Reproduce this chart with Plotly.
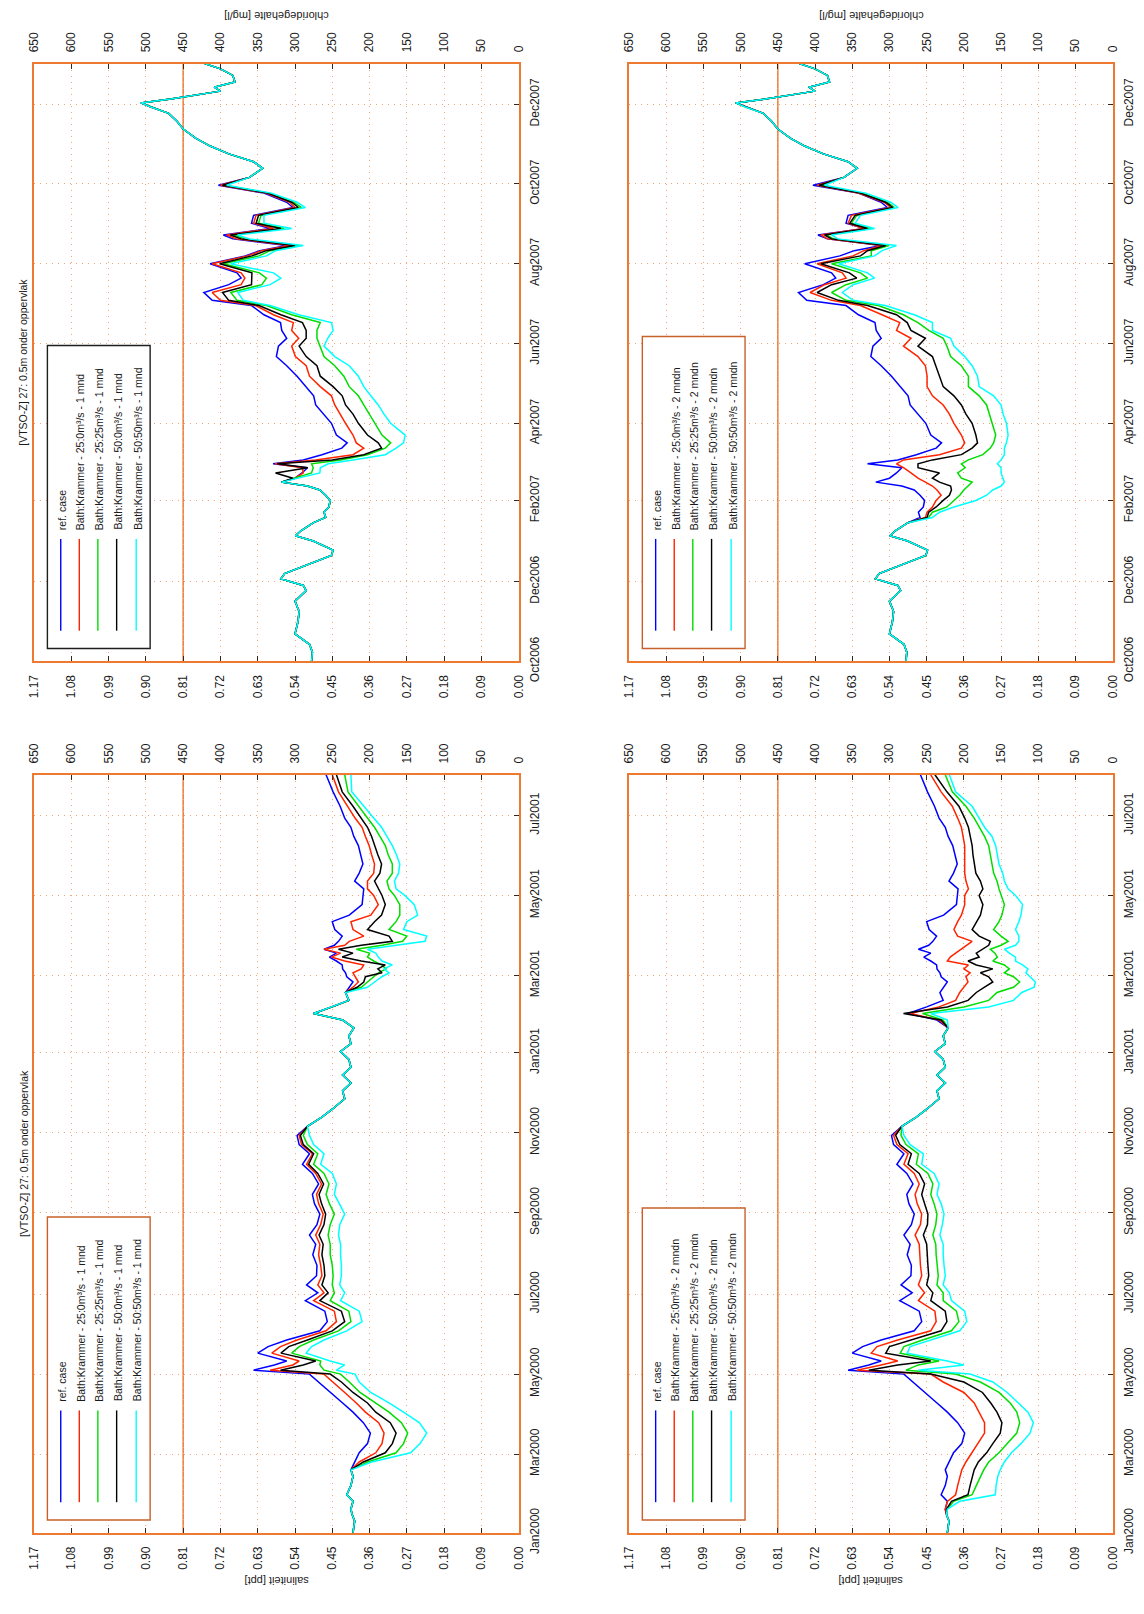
import plotly.graph_objects as go

# ---------------------------------------------------------------- page / scales
W, H = 1144, 1614
SAL_TOP = 1.17          # salinity axis maximum (ppt)
CL_TOP = 650.0          # matching chloride maximum (mg/l)
NORM_SAL = 0.81         # 450 mg/l chloride norm

FONT = "Liberation Sans, Arial, sans-serif"
ORANGE = "#ee7a32"
GRID = "#f2a478"
TICKC = "#3a2616"
TXT = "#1a1a1a"

SAL_TICKS = [0.00, 0.09, 0.18, 0.27, 0.36, 0.45, 0.54, 0.63, 0.72, 0.81, 0.90, 0.99, 1.08, 1.17]
SAL_LABELS = ["0.00", "0.09", "0.18", "0.27", "0.36", "0.45", "0.54", "0.63", "0.72",
              "0.81", "0.90", "0.99", "1.08", "1.17"]
CL_TICKS = [0, 50, 100, 150, 200, 250, 300, 350, 400, 450, 500, 550, 600, 650]

TICKS_0607 = ["2006-10-01", "2006-12-01", "2007-02-01", "2007-04-01",
              "2007-06-01", "2007-08-01", "2007-10-01", "2007-12-01"]
LABELS_0607 = ["Oct2006", "Dec2006", "Feb2007", "Apr2007",
               "Jun2007", "Aug2007", "Oct2007", "Dec2007"]
TICKS_0001 = ["2000-01-01", "2000-03-01", "2000-05-01", "2000-07-01", "2000-09-01",
              "2000-11-01", "2001-01-01", "2001-03-01", "2001-05-01", "2001-07-01"]
LABELS_0001 = ["Jan2000", "Mar2000", "May2000", "Jul2000", "Sep2000",
               "Nov2000", "Jan2001", "Mar2001", "May2001", "Jul2001"]

SERIES_NAMES = ["ref. case",
                "Bath:Krammer - 25:0m³/s",
                "Bath:Krammer - 25:25m³/s",
                "Bath:Krammer - 50:0m³/s",
                "Bath:Krammer - 50:50m³/s"]
SERIES_COLORS = ["#0000ff", "#ff2400", "#00dd00", "#000000", "#00ffff"]

TITLE = "[VTSO-Z] 27: 0.5m onder oppervlak"

# ------------------------------------------------------------ 2000 / 2001 data
# period shared by every run before the measures start
pre00_dates = ["2000-01-01", "2000-01-05", "2000-01-10", "2000-01-15"]
pre00_sal = [0.400, 0.398, 0.396, 0.402]

w00_dates = ["2000-01-19", "2000-01-25", "2000-01-30", "2000-02-06", "2000-02-13", "2000-02-18",
             "2000-02-24", "2000-03-02", "2000-03-09", "2000-03-17", "2000-03-25", "2000-04-02",
             "2000-04-09", "2000-04-17", "2000-04-25", "2000-05-01", "2000-05-04", "2000-05-08",
             "2000-05-11", "2000-05-17", "2000-05-22", "2000-05-27", "2000-06-03", "2000-06-10",
             "2000-06-18", "2000-06-26", "2000-07-02", "2000-07-08", "2000-07-15", "2000-07-23",
             "2000-07-31", "2000-08-08", "2000-08-15", "2000-08-23", "2000-08-31", "2000-09-08",
             "2000-09-15", "2000-09-23", "2000-10-01", "2000-10-08", "2000-10-16", "2000-10-23",
             "2000-10-30"]
ref_w00 = [0.405, 0.400, 0.415, 0.405, 0.400, 0.405, 0.395, 0.385, 0.365, 0.358, 0.375, 0.400,
           0.425, 0.455, 0.485, 0.505, 0.640, 0.590, 0.560, 0.630, 0.605, 0.560, 0.480, 0.462,
           0.468, 0.515, 0.485, 0.512, 0.488, 0.487, 0.497, 0.490, 0.505, 0.487, 0.480, 0.493,
           0.498, 0.483, 0.498, 0.522, 0.505, 0.530, 0.535]
red_1mnd_w00 = [0.405, 0.400, 0.415, 0.405, 0.400, 0.405, 0.385, 0.345, 0.330, 0.325, 0.338, 0.370,
                0.392, 0.420, 0.450, 0.470, 0.600, 0.545, 0.530, 0.596, 0.575, 0.535, 0.465, 0.440,
                0.445, 0.495, 0.470, 0.485, 0.475, 0.478, 0.483, 0.480, 0.490, 0.478, 0.472, 0.483,
                0.488, 0.476, 0.490, 0.512, 0.498, 0.524, 0.530]
green_1mnd_w00 = [0.405, 0.400, 0.415, 0.405, 0.400, 0.405, 0.365, 0.296, 0.278, 0.268, 0.283, 0.313,
                  0.345, 0.383, 0.409, 0.430, 0.470, 0.480, 0.478, 0.548, 0.530, 0.495, 0.435, 0.405,
                  0.410, 0.455, 0.445, 0.450, 0.448, 0.450, 0.455, 0.455, 0.460, 0.455, 0.445, 0.457,
                  0.465, 0.458, 0.470, 0.495, 0.485, 0.510, 0.520]
black_1mnd_w00 = [0.405, 0.400, 0.415, 0.405, 0.400, 0.405, 0.375, 0.322, 0.305, 0.296, 0.310, 0.345,
                  0.365, 0.400, 0.428, 0.455, 0.575, 0.520, 0.490, 0.574, 0.555, 0.510, 0.450, 0.420,
                  0.428, 0.480, 0.460, 0.475, 0.468, 0.470, 0.475, 0.472, 0.482, 0.470, 0.466, 0.476,
                  0.482, 0.471, 0.485, 0.507, 0.495, 0.520, 0.527]
cyan_1mnd_w00 = [0.405, 0.400, 0.415, 0.405, 0.400, 0.405, 0.355, 0.261, 0.238, 0.222, 0.240, 0.278,
                 0.313, 0.357, 0.385, 0.395, 0.440, 0.420, 0.455, 0.513, 0.500, 0.470, 0.415, 0.378,
                 0.385, 0.430, 0.420, 0.432, 0.428, 0.428, 0.430, 0.430, 0.435, 0.432, 0.420, 0.433,
                 0.445, 0.440, 0.450, 0.478, 0.470, 0.495, 0.505]
red_2mndn_w00 = [0.405, 0.400, 0.380, 0.375, 0.370, 0.365, 0.355, 0.340, 0.325, 0.310, 0.310, 0.323,
                 0.335, 0.360, 0.410, 0.440, 0.619, 0.560, 0.520, 0.584, 0.570, 0.520, 0.440, 0.427,
                 0.430, 0.470, 0.455, 0.470, 0.462, 0.465, 0.467, 0.468, 0.478, 0.465, 0.462, 0.473,
                 0.478, 0.468, 0.480, 0.505, 0.495, 0.522, 0.530]
green_2mndn_w00 = [0.400, 0.385, 0.340, 0.330, 0.320, 0.312, 0.300, 0.275, 0.255, 0.232, 0.225, 0.232,
                   0.248, 0.275, 0.320, 0.380, 0.500, 0.470, 0.420, 0.514, 0.505, 0.460, 0.390, 0.372,
                   0.378, 0.410, 0.410, 0.425, 0.422, 0.425, 0.427, 0.428, 0.435, 0.428, 0.425, 0.432,
                   0.440, 0.435, 0.447, 0.475, 0.470, 0.500, 0.512]
black_2mndn_w00 = [0.402, 0.390, 0.350, 0.345, 0.340, 0.335, 0.325, 0.305, 0.290, 0.272, 0.268, 0.280,
                   0.295, 0.315, 0.360, 0.440, 0.590, 0.520, 0.440, 0.549, 0.540, 0.490, 0.415, 0.401,
                   0.405, 0.440, 0.435, 0.450, 0.445, 0.447, 0.449, 0.450, 0.458, 0.448, 0.447, 0.455,
                   0.462, 0.455, 0.468, 0.495, 0.487, 0.515, 0.525]
cyan_2mndn_w00 = [0.400, 0.370, 0.284, 0.282, 0.278, 0.272, 0.262, 0.245, 0.222, 0.200, 0.192, 0.205,
                  0.228, 0.255, 0.290, 0.345, 0.470, 0.360, 0.400, 0.497, 0.490, 0.440, 0.370, 0.353,
                  0.358, 0.390, 0.395, 0.410, 0.405, 0.408, 0.410, 0.410, 0.418, 0.412, 0.408, 0.415,
                  0.425, 0.420, 0.432, 0.462, 0.458, 0.490, 0.505]

# autumn / winter, all runs coincide
mid00_dates = ["2000-11-06", "2000-11-13", "2000-11-19", "2000-11-27", "2000-12-03", "2000-12-09",
               "2000-12-15", "2000-12-21", "2000-12-27", "2001-01-02", "2001-01-08", "2001-01-14",
               "2001-01-20"]
mid00_sal = [0.510, 0.475, 0.450, 0.420, 0.425, 0.405, 0.425, 0.405, 0.410, 0.430, 0.405, 0.410, 0.398]

w01_dates = ["2001-01-26", "2001-01-31", "2001-02-05", "2001-02-10", "2001-02-16", "2001-02-20",
             "2001-02-24", "2001-02-28", "2001-03-03", "2001-03-06", "2001-03-09", "2001-03-12",
             "2001-03-15", "2001-03-18", "2001-03-21", "2001-03-24", "2001-03-27", "2001-03-31",
             "2001-04-05", "2001-04-11", "2001-04-16", "2001-04-24", "2001-05-01", "2001-05-06",
             "2001-05-12", "2001-05-18", "2001-05-25", "2001-06-01", "2001-06-08", "2001-06-15",
             "2001-06-22", "2001-06-29", "2001-07-08", "2001-07-19", "2001-08-01"]
ref_w01 = [0.425, 0.495, 0.450, 0.410, 0.418, 0.410, 0.400, 0.415, 0.418, 0.425, 0.426, 0.440,
           0.457, 0.440, 0.470, 0.445, 0.435, 0.426, 0.444, 0.450, 0.409, 0.378, 0.376, 0.374,
           0.396, 0.385, 0.376, 0.382, 0.387, 0.398, 0.405, 0.420, 0.431, 0.448, 0.465]
red_1mnd_w01 = [0.425, 0.495, 0.450, 0.410, 0.418, 0.400, 0.387, 0.395, 0.400, 0.380, 0.374, 0.420,
                0.452, 0.430, 0.470, 0.420, 0.409, 0.374, 0.400, 0.405, 0.357, 0.339, 0.350, 0.365,
                0.365, 0.350, 0.348, 0.355, 0.361, 0.370, 0.378, 0.395, 0.413, 0.435, 0.450]
green_1mnd_w01 = [0.425, 0.495, 0.450, 0.410, 0.418, 0.380, 0.365, 0.350, 0.339, 0.320, 0.331, 0.350,
                  0.365, 0.360, 0.392, 0.330, 0.280, 0.270, 0.313, 0.296, 0.287, 0.287, 0.300, 0.313,
                  0.318, 0.305, 0.305, 0.315, 0.322, 0.335, 0.348, 0.365, 0.387, 0.412, 0.420]
black_1mnd_w01 = [0.425, 0.495, 0.450, 0.410, 0.418, 0.390, 0.374, 0.370, 0.330, 0.340, 0.322, 0.380,
                  0.426, 0.400, 0.435, 0.380, 0.305, 0.313, 0.365, 0.348, 0.331, 0.322, 0.330, 0.339,
                  0.348, 0.335, 0.331, 0.340, 0.348, 0.355, 0.365, 0.380, 0.400, 0.426, 0.440]
cyan_1mnd_w01 = [0.425, 0.495, 0.450, 0.410, 0.418, 0.365, 0.348, 0.330, 0.313, 0.325, 0.305, 0.330,
                 0.339, 0.345, 0.365, 0.300, 0.226, 0.222, 0.278, 0.270, 0.244, 0.252, 0.275, 0.296,
                 0.300, 0.290, 0.287, 0.295, 0.305, 0.318, 0.331, 0.350, 0.374, 0.403, 0.405]
red_2mndn_w01 = [0.420, 0.490, 0.420, 0.380, 0.370, 0.360, 0.350, 0.355, 0.345, 0.360, 0.349, 0.400,
                 0.393, 0.380, 0.366, 0.355, 0.340, 0.375, 0.384, 0.375, 0.366, 0.358, 0.358, 0.349,
                 0.355, 0.358, 0.358, 0.358, 0.358, 0.362, 0.366, 0.375, 0.388, 0.415, 0.440]
green_2mndn_w01 = [0.410, 0.460, 0.360, 0.300, 0.280, 0.240, 0.225, 0.240, 0.262, 0.250, 0.262, 0.290,
                   0.279, 0.285, 0.296, 0.270, 0.253, 0.270, 0.288, 0.275, 0.268, 0.262, 0.270, 0.275,
                   0.280, 0.288, 0.292, 0.296, 0.300, 0.310, 0.323, 0.335, 0.355, 0.388, 0.405]
black_2mndn_w01 = [0.415, 0.506, 0.400, 0.350, 0.330, 0.310, 0.290, 0.300, 0.320, 0.290, 0.330, 0.350,
                   0.323, 0.330, 0.314, 0.300, 0.296, 0.323, 0.340, 0.330, 0.320, 0.314, 0.323, 0.314,
                   0.320, 0.331, 0.335, 0.338, 0.340, 0.345, 0.349, 0.358, 0.372, 0.401, 0.430]
cyan_2mndn_w01 = [0.400, 0.440, 0.300, 0.240, 0.220, 0.190, 0.187, 0.200, 0.210, 0.205, 0.218, 0.235,
                  0.235, 0.250, 0.262, 0.235, 0.227, 0.227, 0.235, 0.227, 0.222, 0.218, 0.235, 0.253,
                  0.262, 0.266, 0.275, 0.279, 0.283, 0.292, 0.310, 0.323, 0.340, 0.380, 0.395]

# ------------------------------------------------------------ 2006 / 2007 data
pre07_dates = ["2006-10-01", "2006-10-08", "2006-10-14", "2006-10-22", "2006-10-31", "2006-11-08",
               "2006-11-16", "2006-11-24", "2006-11-28", "2006-12-03", "2006-12-07", "2006-12-13",
               "2006-12-21", "2006-12-25", "2007-01-01", "2007-01-05", "2007-01-09"]
pre07_sal = [0.500, 0.498, 0.505, 0.540, 0.533, 0.530, 0.540, 0.513, 0.520, 0.574, 0.565, 0.515,
             0.452, 0.448, 0.496, 0.539, 0.525]

w07_dates = ["2007-01-15", "2007-01-19", "2007-01-23", "2007-01-27", "2007-02-01", "2007-02-05",
             "2007-02-09", "2007-02-12", "2007-02-15", "2007-02-18", "2007-02-22", "2007-02-26",
             "2007-03-01", "2007-03-04", "2007-03-08", "2007-03-13", "2007-03-17", "2007-03-23",
             "2007-04-01", "2007-04-08", "2007-04-15", "2007-04-22", "2007-04-29", "2007-05-07",
             "2007-05-15", "2007-05-22", "2007-05-30", "2007-06-05", "2007-06-11", "2007-06-17",
             "2007-06-23", "2007-06-30", "2007-07-04", "2007-07-10", "2007-07-16", "2007-07-21",
             "2007-07-25", "2007-08-01", "2007-08-07", "2007-08-11", "2007-08-15", "2007-08-20",
             "2007-08-23", "2007-08-28", "2007-09-01", "2007-09-07", "2007-09-13", "2007-09-17",
             "2007-09-24", "2007-09-30"]
ref_w07 = [0.495, 0.466, 0.470, 0.458, 0.455, 0.466, 0.480, 0.510, 0.573, 0.540, 0.523, 0.510,
           0.593, 0.520, 0.475, 0.427, 0.414, 0.440, 0.452, 0.470, 0.490, 0.495, 0.513, 0.535,
           0.560, 0.585, 0.580, 0.560, 0.572, 0.575, 0.615, 0.645, 0.740, 0.760, 0.700, 0.670,
           0.680, 0.745, 0.660, 0.625, 0.560, 0.690, 0.713, 0.600, 0.645, 0.640, 0.545, 0.560,
           0.615, 0.725]
red_1mnd_w07 = [0.495, 0.466, 0.470, 0.458, 0.455, 0.466, 0.480, 0.510, 0.573, 0.540, 0.520, 0.522,
                0.588, 0.490, 0.400, 0.374, 0.392, 0.400, 0.418, 0.430, 0.444, 0.452, 0.479, 0.505,
                0.513, 0.539, 0.548, 0.531, 0.548, 0.544, 0.592, 0.635, 0.720, 0.740, 0.670, 0.661,
                0.670, 0.740, 0.655, 0.620, 0.552, 0.682, 0.705, 0.592, 0.640, 0.634, 0.540, 0.553,
                0.610, 0.720]
green_1mnd_w07 = [0.495, 0.466, 0.470, 0.458, 0.455, 0.466, 0.480, 0.510, 0.573, 0.540, 0.500, 0.496,
                  0.500, 0.430, 0.365, 0.322, 0.309, 0.330, 0.348, 0.360, 0.374, 0.387, 0.409, 0.422,
                  0.444, 0.470, 0.479, 0.487, 0.487, 0.479, 0.548, 0.609, 0.680, 0.695, 0.620, 0.609,
                  0.626, 0.713, 0.627, 0.600, 0.532, 0.662, 0.687, 0.566, 0.628, 0.622, 0.524, 0.544,
                  0.602, 0.710]
black_1mnd_w07 = [0.495, 0.466, 0.470, 0.458, 0.455, 0.466, 0.480, 0.510, 0.573, 0.545, 0.587, 0.509,
                  0.583, 0.450, 0.374, 0.331, 0.339, 0.365, 0.387, 0.400, 0.418, 0.426, 0.448, 0.479,
                  0.487, 0.513, 0.530, 0.513, 0.513, 0.522, 0.574, 0.627, 0.700, 0.715, 0.645, 0.644,
                  0.644, 0.722, 0.644, 0.609, 0.540, 0.670, 0.696, 0.574, 0.634, 0.628, 0.532, 0.548,
                  0.606, 0.715]
cyan_1mnd_w07 = [0.495, 0.466, 0.470, 0.458, 0.455, 0.466, 0.480, 0.510, 0.573, 0.535, 0.480, 0.479,
                 0.460, 0.400, 0.322, 0.296, 0.278, 0.274, 0.309, 0.325, 0.339, 0.357, 0.374, 0.387,
                 0.409, 0.444, 0.470, 0.461, 0.448, 0.452, 0.531, 0.600, 0.665, 0.678, 0.600, 0.574,
                 0.592, 0.696, 0.609, 0.587, 0.520, 0.650, 0.679, 0.548, 0.615, 0.615, 0.515, 0.535,
                 0.597, 0.705]
red_2mndn_w07 = [0.495, 0.453, 0.449, 0.436, 0.427, 0.415, 0.425, 0.436, 0.453, 0.471, 0.488, 0.506,
                 0.523, 0.506, 0.419, 0.366, 0.358, 0.366, 0.384, 0.395, 0.410, 0.436, 0.449, 0.449,
                 0.453, 0.471, 0.506, 0.488, 0.523, 0.515, 0.558, 0.610, 0.680, 0.732, 0.697, 0.645,
                 0.654, 0.715, 0.628, 0.602, 0.558, 0.690, 0.706, 0.602, 0.640, 0.632, 0.537, 0.553,
                 0.615, 0.715]
green_2mndn_w07 = [0.495, 0.445, 0.436, 0.401, 0.384, 0.370, 0.360, 0.349, 0.340, 0.366, 0.375, 0.357,
                   0.366, 0.349, 0.314, 0.296, 0.288, 0.283, 0.292, 0.298, 0.305, 0.323, 0.349, 0.349,
                   0.366, 0.392, 0.401, 0.410, 0.445, 0.471, 0.506, 0.567, 0.645, 0.680, 0.645, 0.593,
                   0.610, 0.680, 0.584, 0.584, 0.541, 0.675, 0.693, 0.584, 0.632, 0.619, 0.528, 0.545,
                   0.606, 0.706]
black_2mndn_w07 = [0.495, 0.449, 0.445, 0.427, 0.410, 0.395, 0.390, 0.392, 0.419, 0.436, 0.419, 0.471,
                   0.471, 0.436, 0.366, 0.340, 0.327, 0.331, 0.340, 0.355, 0.366, 0.384, 0.410, 0.419,
                   0.427, 0.436, 0.471, 0.453, 0.488, 0.497, 0.523, 0.593, 0.663, 0.715, 0.680, 0.619,
                   0.637, 0.706, 0.610, 0.593, 0.549, 0.680, 0.697, 0.593, 0.636, 0.623, 0.532, 0.549,
                   0.610, 0.710]
cyan_2mndn_w07 = [0.495, 0.436, 0.419, 0.384, 0.331, 0.305, 0.290, 0.270, 0.262, 0.266, 0.270, 0.270,
                  0.279, 0.270, 0.262, 0.262, 0.257, 0.253, 0.257, 0.265, 0.270, 0.288, 0.323, 0.327,
                  0.340, 0.358, 0.384, 0.392, 0.436, 0.436, 0.480, 0.550, 0.628, 0.654, 0.628, 0.576,
                  0.593, 0.663, 0.576, 0.558, 0.523, 0.665, 0.680, 0.576, 0.623, 0.610, 0.519, 0.537,
                  0.597, 0.697]

post07_dates = ["2007-10-06", "2007-10-13", "2007-10-18", "2007-10-24", "2007-10-30", "2007-11-05",
                "2007-11-12", "2007-11-18", "2007-11-24", "2007-11-29", "2007-12-02", "2007-12-05",
                "2007-12-08", "2007-12-11", "2007-12-14", "2007-12-18", "2007-12-23", "2007-12-28",
                "2008-01-01"]
post07_sal = [0.650, 0.618, 0.640, 0.700, 0.745, 0.780, 0.810, 0.825, 0.845, 0.890, 0.912, 0.840,
              0.775, 0.720, 0.735, 0.685, 0.690, 0.720, 0.758]


# ------------------------------------------------------------ assemble runs
def runs_0607(windows):
    dates = pre07_dates + w07_dates + post07_dates
    return dates, [pre07_sal + w + post07_sal for w in windows]


def runs_0001(w00_list, w01_list):
    dates = pre00_dates + w00_dates + mid00_dates + w01_dates
    return dates, [pre00_sal + a + mid00_sal + b for a, b in zip(w00_list, w01_list)]


# pixel frame of the four panels (left, right, top, bottom)
COLS = [(27.4, 518.0), (629.7, 1119.4)]
ROWS = [(64.5, 670.0), (785.0, 1553.0)]

panels = [
    dict(col=0, row=0, data=runs_0607([ref_w07, red_1mnd_w07, green_1mnd_w07,
                                       black_1mnd_w07, cyan_1mnd_w07]),
         yrange=["2006-10-01", "2008-01-01"], ticks=(TICKS_0607, LABELS_0607),
         suffix=" - 1 mnd", border="#1e1e1e", title=True, box_h=307),
    dict(col=1, row=0, data=runs_0607([ref_w07, red_2mndn_w07, green_2mndn_w07,
                                       black_2mndn_w07, cyan_2mndn_w07]),
         yrange=["2006-10-01", "2008-01-01"], ticks=(TICKS_0607, LABELS_0607),
         suffix=" - 2 mndn", border="#c8602a", title=False, box_h=316),
    dict(col=0, row=1, data=runs_0001([ref_w00, red_1mnd_w00, green_1mnd_w00,
                                       black_1mnd_w00, cyan_1mnd_w00],
                                      [ref_w01, red_1mnd_w01, green_1mnd_w01,
                                       black_1mnd_w01, cyan_1mnd_w01]),
         yrange=["2000-01-01", "2001-08-01"], ticks=(TICKS_0001, LABELS_0001),
         suffix=" - 1 mnd", border="#c8602a", title=True, box_h=307),
    dict(col=1, row=1, data=runs_0001([ref_w00, red_2mndn_w00, green_2mndn_w00,
                                       black_2mndn_w00, cyan_2mndn_w00],
                                      [ref_w01, red_2mndn_w01, green_2mndn_w01,
                                       black_2mndn_w01, cyan_2mndn_w01]),
         yrange=["2000-01-01", "2001-08-01"], ticks=(TICKS_0001, LABELS_0001),
         suffix=" - 2 mndn", border="#c8602a", title=False, box_h=316),
]


def pxx(x):
    return x / W


def pxy(y):
    return 1 - y / H


def name(letter, n):
    return f"{letter}axis" if n == 1 else f"{letter}axis{n}"


def ref(letter, n):
    return letter if n == 1 else f"{letter}{n}"


fig = go.Figure()
layout = {}
shapes = []
annotations = []

tick_font = dict(family=FONT, size=12, color=TXT)
label_font = dict(family=FONT, size=10.5, color=TXT)
title_font = dict(family=FONT, size=11, color=TXT)

for k, p in enumerate(panels):
    L, R = COLS[p["col"]]
    T, B = ROWS[p["row"]]
    sal_n, cl_n, y_n = 2 * k + 1, 2 * k + 2, k + 1
    xs, xc, ys = ref("x", sal_n), ref("x", cl_n), ref("y", y_n)
    dates, runs = p["data"]

    for i, vals in enumerate(runs):
        fig.add_trace(go.Scatter(x=vals, y=dates, mode="lines", xaxis=xs, yaxis=ys,
                                 line=dict(color=SERIES_COLORS[i], width=1.5),
                                 name=SERIES_NAMES[i] + (p["suffix"] if i else ""),
                                 showlegend=False))
    # reference run on the chloride scale, keeps the top axis bound to data
    fig.add_trace(go.Scatter(x=[v * CL_TOP / SAL_TOP for v in runs[0]], y=dates, mode="lines",
                             xaxis=xc, yaxis=ys, opacity=0, hoverinfo="skip",
                             showlegend=False))

    common = dict(ticks="inside", ticklen=5, tickwidth=1, tickcolor=TICKC,
                  showline=True, linecolor=ORANGE, linewidth=1.8,
                  zeroline=False, tickfont=tick_font, tickangle=-90)
    layout[name("x", sal_n)] = dict(
        domain=[pxx(L), pxx(R)], anchor=ys, range=[SAL_TOP, 0],
        tickmode="array", tickvals=SAL_TICKS, ticktext=SAL_LABELS,
        showgrid=True, gridcolor=GRID, griddash="1px,5px", gridwidth=1,
        ticklabelstandoff=7, **common)
    layout[name("x", cl_n)] = dict(
        overlaying=xs, anchor=ys, side="top", range=[CL_TOP, 0],
        tickmode="array", tickvals=CL_TICKS, ticktext=[str(v) for v in CL_TICKS],
        showgrid=False, ticklabelstandoff=7, **common)
    layout[name("y", y_n)] = dict(
        domain=[pxy(B), pxy(T)], anchor=xs, side="right", type="date",
        range=p["yrange"], tickmode="array", tickvals=p["ticks"][0], ticktext=p["ticks"][1],
        mirror=True, showgrid=True, gridcolor=GRID, griddash="1px,5px", gridwidth=1,
        ticklabelstandoff=4, **common)

    # chloride norm line
    shapes.append(dict(type="line", xref=xs, yref=f"{ys} domain", x0=NORM_SAL, x1=NORM_SAL,
                       y0=0, y1=1, line=dict(color=ORANGE, width=1.5), layer="below"))

    # legend, written along the date axis
    bx0, bx1 = L + 13.5, L + 117.5
    by0, by1 = B - 13, B - 13 - p["box_h"]
    shapes.append(dict(type="rect", xref="paper", yref="paper",
                       x0=pxx(bx0), x1=pxx(bx1), y0=pxy(by0), y1=pxy(by1),
                       line=dict(color=p["border"], width=1.4), fillcolor="white", layer="above"))
    offsets = [27.0, 45.8, 64.6, 83.6, 103.4]
    for i, off in enumerate(offsets):
        lx = L + off
        shapes.append(dict(type="line", xref="paper", yref="paper",
                           x0=pxx(lx), x1=pxx(lx), y0=pxy(B - 31), y1=pxy(B - 124),
                           line=dict(color=SERIES_COLORS[i], width=1.4), layer="above"))
        annotations.append(dict(xref="paper", yref="paper", x=pxx(lx + 1.5), y=pxy(B - 131),
                                text=SERIES_NAMES[i] + (p["suffix"] if i else ""),
                                textangle=-90, xanchor="center", yanchor="bottom",
                                showarrow=False, font=label_font))

    if p["title"]:
        annotations.append(dict(xref="paper", yref="paper", x=pxx(16.5), y=pxy((T + B) / 2),
                                text=TITLE, textangle=-90, showarrow=False,
                                xanchor="center", yanchor="middle", font=label_font))
    if p["row"] == 0:
        annotations.append(dict(xref="paper", yref="paper", x=pxx((L + R) / 2), y=pxy(15.5),
                                text="chloridegehalte [mg/l]", textangle=180, showarrow=False,
                                xanchor="center", yanchor="middle", font=title_font))
    else:
        annotations.append(dict(xref="paper", yref="paper", x=pxx((L + R) / 2), y=pxy(1602),
                                text="saliniteit [ppt]", textangle=180, showarrow=False,
                                xanchor="center", yanchor="middle", font=title_font))

fig.update_layout(
    width=W, height=H, margin=dict(l=0, r=0, t=0, b=0),
    paper_bgcolor="white", plot_bgcolor="white", showlegend=False,
    shapes=shapes, annotations=annotations, **layout)

fig.write_html("out.html")
